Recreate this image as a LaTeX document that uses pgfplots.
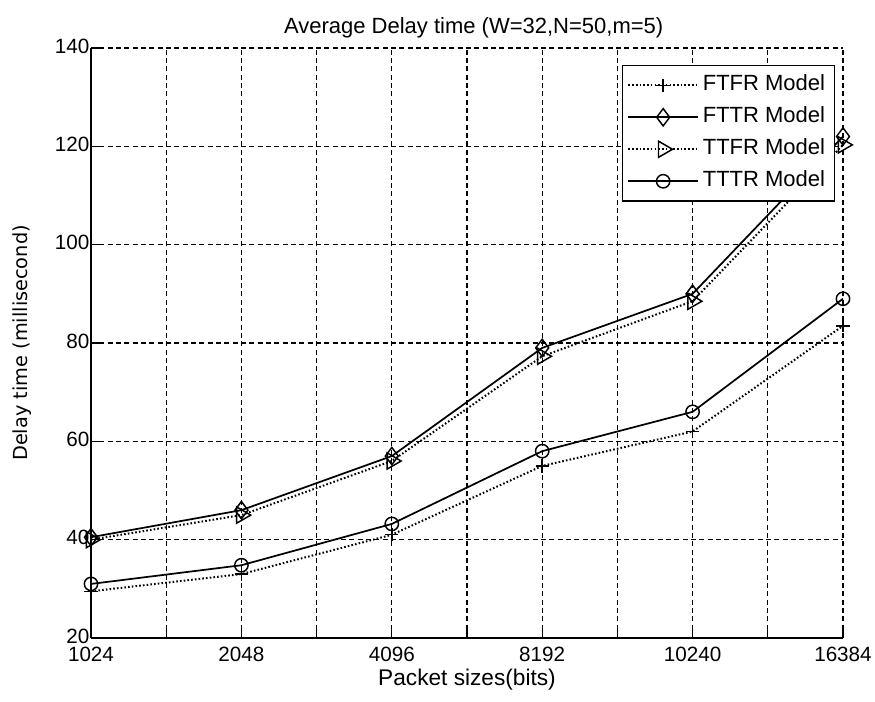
\documentclass[border=0pt]{standalone}
\usepackage{fontspec}
\setmainfont{Liberation Sans}
\newfontfamily\dejavu{DejaVu Sans}
\usepackage{pgfplots}
\pgfplotsset{compat=1.18}

\begin{document}
\begin{tikzpicture}
\useasboundingbox (0,0) rectangle (656.25pt,525.75pt);
\begin{axis}[
  at={(68.25pt,47.25pt)}, anchor=south west,
  scale only axis, width=564pt, height=442.5pt,
  xmin=0, xmax=5, ymin=20, ymax=140,
  xtick={0,...,5}, xticklabels={1024,2048,4096,8192,10240,16384},
  minor xtick={0.5,1.5,2.5,3.5,4.5},
  ytick={20,40,...,140},
  axis x line*=bottom, axis y line*=left,
  axis line style={line width=1.1pt},
  tick align=inside,
  major tick length=6pt, minor tick length=6pt,
  tick style={black, line width=0.8pt},
  grid=both,
  major grid style={black, line width=0.9pt, dash pattern=on 3.75pt off 2.5pt},
  minor grid style={black, line width=0.9pt, dash pattern=on 3.75pt off 2.5pt},
  /pgf/number format/assume math mode=true,
  tick label style={font=\fontsize{15.5}{17}\selectfont},
  yticklabel style={inner xsep=1pt, yshift=1.5pt},
  xticklabel style={yshift=-3.5pt},
  title={Average Delay time (W=32,N=50,m=5)},
  title style={font=\fontsize{16.5}{19}\selectfont, yshift=-1.75pt, xshift=5pt},
  xlabel={Packet sizes(bits)},
  xlabel style={at={(axis description cs:0.5,0)}, anchor=base, yshift=-35.5pt, font=\fontsize{17}{19}\selectfont},
  ylabel={Delay time (millisecond)},
  ylabel style={at={(axis description cs:-0.0918,0.5)}, anchor=center, font=\dejavu\fontsize{14.5}{17}\selectfont},
  legend style={at={(1,1)}, anchor=north east, xshift=-6pt, yshift=-12.75pt,
    draw=black, line width=0.9pt, font=\fontsize{16.5}{19}\selectfont,
    nodes={inner xsep=3pt, inner ysep=2pt, text height=12pt, text depth=3.5pt},
    row sep=4.5pt, inner xsep=4pt, inner ysep=5pt},
  legend cell align=left,
  legend image code/.code={\draw[mark repeat=2,mark phase=2,#1] plot coordinates {(0pt,0pt) (26pt,0pt) (52pt,0pt)};},
]
\addplot[black, line width=1.5pt, dash pattern=on 1.2pt off 1.6pt, mark=+, mark size=5pt, mark options={solid, line width=1.1pt}]
  coordinates {(0,29.5) (1,33) (2,41) (3,55) (4,62) (5,83.5)};
\addlegendentry{FTFR Model}
\addplot[black, line width=1.3pt, mark=diamond, mark size=6.5pt, mark options={solid, line width=1.1pt}]
  coordinates {(0,40.5) (1,46) (2,57) (3,79) (4,90) (5,122)};
\addlegendentry{FTTR Model}
\addplot[black, line width=1.5pt, dash pattern=on 1.2pt off 1.6pt, mark=triangle, mark size=7pt, mark options={solid, line width=1.1pt, rotate=-90}]
  coordinates {(0,40) (1,45) (2,56) (3,77.3) (4,88.5) (5,120.3)};
\addlegendentry{TTFR Model}
\addplot[black, line width=1.3pt, mark=o, mark size=5pt, mark options={solid, line width=1.1pt, fill=white}]
  coordinates {(0,31) (1,34.8) (2,43.2) (3,58) (4,66) (5,89)};
\addlegendentry{TTTR Model}
\end{axis}
\end{tikzpicture}
\end{document}
